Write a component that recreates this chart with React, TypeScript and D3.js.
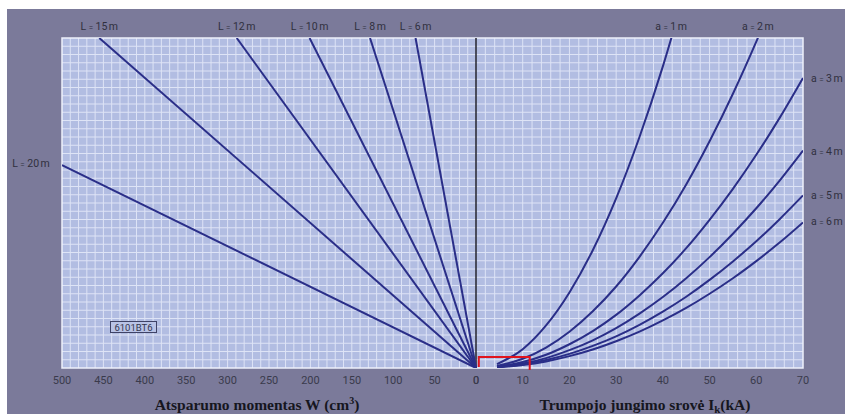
import React from "react";
import * as d3 from "d3";

// Left side: straight lines W (cm³) vs relative load, per span length L
const spanLabels = ["20", "15", "12", "10", "8", "6"];
const spanEndW = [500, 455, 289, 201, 128, 73];
const spanEndY = [0.615, 1, 1, 1, 1, 1];

// Right side: curves vs short-circuit current Ik (kA), per distance a
const distLabels = ["1", "2", "3", "4", "5", "6"];
const curveI = [4.5, 10, 15, 20, 25, 30, 35, 40, 45, 50, 55, 60, 65, 70];
const curveY: number[][] = [
  [0.012, 0.057, 0.129, 0.229, 0.357, 0.514, 0.7, 0.914, 1.157],
  [0.006, 0.028, 0.062, 0.11, 0.172, 0.247, 0.337, 0.44, 0.556, 0.687, 0.831, 0.989, 1.16],
  [0.004, 0.018, 0.04, 0.072, 0.112, 0.161, 0.22, 0.287, 0.363, 0.449, 0.543, 0.646, 0.758, 0.879],
  [0.003, 0.0134, 0.03, 0.054, 0.084, 0.121, 0.165, 0.215, 0.272, 0.336, 0.407, 0.484, 0.568, 0.659],
  [0.0025, 0.0107, 0.024, 0.0427, 0.067, 0.096, 0.131, 0.171, 0.216, 0.267, 0.323, 0.384, 0.451, 0.523],
  [0.002, 0.009, 0.02, 0.036, 0.056, 0.081, 0.11, 0.144, 0.182, 0.225, 0.272, 0.324, 0.38, 0.441],
];
const rightLabelY = [null, null, 0.877, 0.656, 0.522, 0.443];

const wTicks = [500, 450, 400, 350, 300, 250, 200, 150, 100, 50, 0];
const iTicks = [0, 10, 20, 30, 40, 50, 60, 70];

// red marked region: Ik from 0.6 to 11.5 kA
const redBoxI = [0.6, 11.5];
const redBoxY = 0.033;

const W = 845;
const H = 414;
const OX = 8, OY = 8;
const left = 54, right = 795, top = 30, bottom = 360, zeroX = 468;

function Lab({ x, y, name, val, anchor }: { x: number; y: number; name: string; val: string; anchor?: string }) {
  return (
    <text
      x={x}
      y={y}
      textAnchor={anchor || "start"}
      style={{ fontFamily: "Roboto, 'Liberation Sans', sans-serif", fontSize: 10.5, fill: "#30303e" }}
    >
      {name}
      <tspan fontSize={8} dx={2.5}>=</tspan>
      <tspan dx={2.5}>{val}</tspan>
      <tspan dx={1.5}>m</tspan>
    </text>
  );
}

export default function App() {
  const xW = d3.scaleLinear().domain([500, 0]).range([left, zeroX]);
  const xI = d3.scaleLinear().domain([0, 70]).range([zeroX, right]);
  const y = d3.scaleLinear().domain([0, 1]).range([bottom, top]);

  const gridV: number[] = [];
  for (let w = 490; w > 0; w -= 10) gridV.push(xW(w));
  for (let i = 2; i < 70; i += 2) gridV.push(xI(i));
  const gridH: number[] = [];
  for (let k = 1; k < 40; k++) gridH.push(y(k / 40));

  const lineGen = d3
    .line<[number, number]>()
    .x((d) => xI(d[0]))
    .y((d) => y(d[1]))
    .curve(d3.curveMonotoneX);

  const lineColor = "#2a2e88";
  const tickStyle: React.CSSProperties = {
    fontFamily: "Roboto, 'Liberation Sans', sans-serif",
    fontSize: 11,
    fill: "#3a3a4c",
  };
  const titleStyle: React.CSSProperties = {
    fontFamily: "'Liberation Serif', 'Times New Roman', serif",
    fontWeight: "bold",
    fontSize: 15.5,
    fill: "#16161e",
  };

  return (
    <>
      <style>{"body{margin:0;overflow:hidden;background:#fff}"}</style>
      <svg width={W} height={H} style={{ display: "block" }}>
        <rect x={7} y={9} width={W - 7} height={H - 9} fill="#7b7a9a" />
        <g transform={`translate(${OX},${OY})`}>
          <defs>
            <clipPath id="plotClip">
              <rect x={left} y={top} width={right - left} height={bottom - top} />
            </clipPath>
          </defs>
          <rect x={left} y={top} width={right - left} height={bottom - top} fill="#b2bde2" />
          <g stroke="#e6ebfa" strokeWidth={1} opacity={0.85}>
            {gridV.map((x, i) => (
              <line key={"v" + i} x1={x} x2={x} y1={top} y2={bottom} />
            ))}
            {gridH.map((yy, i) => (
              <line key={"h" + i} x1={left} x2={right} y1={yy} y2={yy} />
            ))}
          </g>
          <rect x={left} y={top} width={right - left} height={bottom - top} fill="none" stroke="#eef1fb" strokeWidth={1.5} />

          {/* zero axis */}
          <line x1={zeroX} x2={zeroX} y1={top} y2={bottom} stroke="#25252e" strokeWidth={1.5} />

          <g clipPath="url(#plotClip)" fill="none" stroke={lineColor} strokeWidth={2}>
            {spanEndW.map((w, i) => (
              <line key={"s" + i} x1={xW(0)} y1={y(0)} x2={xW(w)} y2={y(spanEndY[i])} />
            ))}
            {curveY.map((ys, i) => (
              <path key={"c" + i} d={lineGen(ys.map((v, j) => [curveI[j], v] as [number, number])) || ""} />
            ))}
          </g>

          {/* red box */}
          <path
            d={`M${xI(redBoxI[0])},${y(0) - 1} V${y(redBoxY)} H${xI(redBoxI[1])} V${y(0) + 2}`}
            fill="none"
            stroke="#e0141e"
            strokeWidth={2}
          />

          {/* span labels */}
          {spanLabels.map((t, i) =>
            spanEndY[i] >= 1 ? (
              <Lab key={"sl" + i} x={xW(spanEndW[i])} y={top - 8} name="L" val={t} anchor="middle" />
            ) : (
              <Lab key={"sl" + i} x={23} y={y(spanEndY[i]) + 2} name="L" val={t} anchor="middle" />
            )
          )}

          {/* distance labels */}
          {distLabels.map((t, i) => {
            const ry = rightLabelY[i];
            if (ry === null) {
              const ys = curveY[i];
              let xi = 70;
              for (let j = 1; j < ys.length; j++) {
                if (ys[j] >= 1) {
                  const t0 = (1 - ys[j - 1]) / (ys[j] - ys[j - 1]);
                  xi = curveI[j - 1] + t0 * (curveI[j] - curveI[j - 1]);
                  break;
                }
              }
              return <Lab key={"dl" + i} x={xI(xi)} y={top - 8} name="a" val={t} anchor="middle" />;
            }
            return <Lab key={"dl" + i} x={803} y={y(ry) + 3} name="a" val={t} />;
          })}

          {/* stamp */}
          <rect x={102.5} y={313.5} width={46} height={11} fill="#b9c3e6" stroke="#3e4266" strokeWidth={1} />
          <text
            x={125.5}
            y={322.5}
            textAnchor="middle"
            style={{ fontFamily: "Roboto, 'Liberation Sans', sans-serif", fontSize: 9.5, fill: "#33364f" }}
          >
            6101BT6
          </text>

          {/* ticks */}
          {wTicks.map((w) => (
            <text key={"wt" + w} x={xW(w)} y={376} textAnchor="middle" style={tickStyle}>
              {w}
            </text>
          ))}
          {iTicks.map((v) => (
            <text key={"it" + v} x={xI(v)} y={376} textAnchor="middle" style={tickStyle}>
              {v}
            </text>
          ))}

          {/* axis titles */}
          <text x={249} y={402} textAnchor="middle" style={titleStyle}>
            Atsparumo momentas W (cm<tspan dy={-6} fontSize={10}>3</tspan>
            <tspan dy={6}>)</tspan>
          </text>
          <text x={637} y={402} textAnchor="middle" style={titleStyle}>
            Trumpojo jungimo srovė I<tspan dy={3} fontSize={11}>k</tspan>
            <tspan dy={-3}>(kA)</tspan>
          </text>
        </g>
      </svg>
    </>
  );
}
